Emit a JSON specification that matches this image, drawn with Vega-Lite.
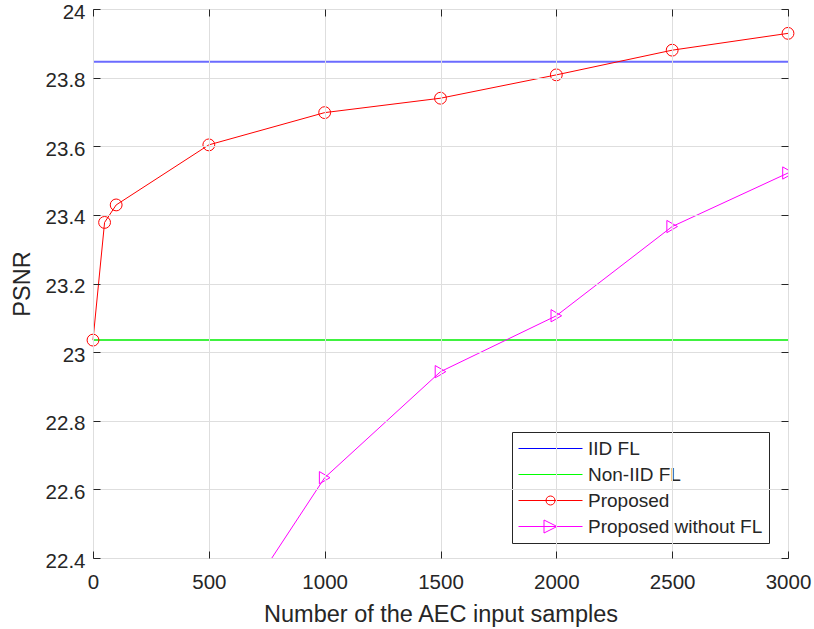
{
  "$schema": "https://vega.github.io/schema/vega-lite/v6.json",
  "width": 695,
  "height": 549,
  "autosize": "none",
  "padding": {"left": 93, "top": 9, "right": 26, "bottom": 71},
  "background": "white",
  "data": {
    "values": [
      {"series": "IID FL", "x": 0, "psnr": 23.846},
      {"series": "Non-IID FL", "x": 0, "psnr": 23.035},
      {"series": "Proposed", "x": 0, "psnr": 23.035},
      {"series": "Proposed", "x": 50, "psnr": 23.378},
      {"series": "Proposed", "x": 100, "psnr": 23.429},
      {"series": "Proposed", "x": 500, "psnr": 23.604},
      {"series": "Proposed", "x": 1000, "psnr": 23.698},
      {"series": "Proposed", "x": 1500, "psnr": 23.740},
      {"series": "Proposed", "x": 2000, "psnr": 23.808},
      {"series": "Proposed", "x": 2500, "psnr": 23.880},
      {"series": "Proposed", "x": 3000, "psnr": 23.929},
      {"series": "Proposed without FL", "x": 500, "psnr": 22.121},
      {"series": "Proposed without FL", "x": 1000, "psnr": 22.634},
      {"series": "Proposed without FL", "x": 1500, "psnr": 22.943},
      {"series": "Proposed without FL", "x": 2000, "psnr": 23.106},
      {"series": "Proposed without FL", "x": 2500, "psnr": 23.366},
      {"series": "Proposed without FL", "x": 3000, "psnr": 23.522}
    ]
  },
  "layer": [
    {
      "transform": [{"filter": "datum.series == 'IID FL'"}],
      "mark": {"type": "rule", "color": "#6b6bff", "strokeWidth": 2},
      "encoding": {
        "y": {"field": "psnr", "type": "quantitative", "scale": {"domain": [22.4, 24], "nice": false, "zero": false}, "axis": null}
      }
    },
    {
      "transform": [{"filter": "datum.series == 'Non-IID FL'"}],
      "mark": {"type": "rule", "color": "#00ee00", "strokeWidth": 1.5},
      "encoding": {
        "y": {"field": "psnr", "type": "quantitative", "axis": null}
      }
    },
    {
      "transform": [{"filter": "datum.series == 'Proposed'"}],
      "mark": {"type": "line", "color": "#ff0000", "strokeWidth": 1},
      "encoding": {
        "x": {
          "field": "x", "type": "quantitative",
          "scale": {"domain": [0, 3000], "nice": false, "zero": false},
          "axis": {
            "orient": "bottom",
            "values": [0, 500, 1000, 1500, 2000, 2500, 3000],
            "format": "d",
            "title": "Number of the AEC input samples",
            "offset": -7, "tickSize": 7, "labelPadding": 14, "titlePadding": 10,
            "ticks": true, "tickColor": "#262626", "tickWidth": 1, "zindex": 2,
            "grid": true, "domain": false
          }
        },
        "y": {
          "field": "psnr", "type": "quantitative",
          "axis": {
            "orient": "left",
            "values": [22.4, 22.6, 22.8, 23, 23.2, 23.4, 23.6, 23.8, 24],
            "format": ".1~f",
            "title": "PSNR",
            "offset": -7, "tickSize": 7, "labelPadding": 8, "titlePadding": 11, "labelOffset": 3,
            "ticks": true, "tickColor": "#262626", "tickWidth": 1, "zindex": 2,
            "grid": true, "domain": false
          }
        }
      }
    },
    {
      "transform": [{"filter": "datum.series == 'Proposed'"}],
      "mark": {"type": "point", "shape": "circle", "filled": false, "color": "#ff0000", "size": 140, "strokeWidth": 1, "opacity": 1},
      "encoding": {
        "x": {
          "field": "x", "type": "quantitative",
          "axis": {"orient": "top", "values": [0, 500, 1000, 1500, 2000, 2500, 3000], "labels": false, "title": null, "offset": -7, "tickSize": 7, "ticks": true, "tickColor": "#262626", "tickWidth": 1, "zindex": 2, "grid": false, "domain": false}
        },
        "y": {
          "field": "psnr", "type": "quantitative",
          "axis": {"orient": "right", "values": [22.4, 22.6, 22.8, 23, 23.2, 23.4, 23.6, 23.8, 24], "labels": false, "title": null, "offset": -7, "tickSize": 7, "ticks": true, "tickColor": "#262626", "tickWidth": 1, "zindex": 2, "grid": false, "domain": false}
        }
      }
    },
    {
      "transform": [{"filter": "datum.series == 'Proposed without FL'"}],
      "mark": {"type": "line", "color": "#ff00ff", "strokeWidth": 1, "clip": true},
      "encoding": {
        "x": {"field": "x", "type": "quantitative", "axis": null},
        "y": {"field": "psnr", "type": "quantitative", "axis": null}
      }
    },
    {
      "transform": [{"filter": "datum.series == 'Proposed without FL'"}],
      "mark": {"type": "point", "shape": "triangle-right", "filled": false, "color": "#ff00ff", "size": 150, "strokeWidth": 1, "opacity": 1, "clip": true},
      "encoding": {
        "x": {"field": "x", "type": "quantitative", "axis": null},
        "y": {"field": "psnr", "type": "quantitative", "axis": null}
      }
    },
    {
      "transform": [{"filter": "datum.series == 'none'"}],
      "mark": {"type": "point", "filled": false, "opacity": 1, "strokeWidth": 1},
      "encoding": {
        "color": {
          "field": "series", "type": "nominal",
          "scale": {"domain": ["IID FL", "Non-IID FL", "Proposed", "Proposed without FL"], "range": ["#0000ff", "#00ff00", "#ff0000", "#ff00ff"]},
          "legend": {
            "title": null, "orient": "none", "legendX": 419, "legendY": 423,
            "symbolSize": 400, "labelOffset": 49, "symbolStrokeWidth": 1,
            "symbolFillColor": "transparent", "labelLimit": 400,
            "strokeColor": "#262626", "fillColor": "white", "padding": 6, "rowPadding": 5,
            "labelFontSize": 19, "labelFont": "Liberation Sans", "labelColor": "#262626"
          }
        },
        "shape": {
          "field": "series", "type": "nominal",
          "scale": {
            "domain": ["IID FL", "Non-IID FL", "Proposed", "Proposed without FL"],
            "range": [
              "M-1,0L5.4,0",
              "M-1,0L5.4,0",
              "M-1,0L5.4,0M2.65,0A0.45,0.45,0,1,1,1.75,0A0.45,0.45,0,1,1,2.65,0",
              "M-1,0L5.4,0M1.55,-0.65L2.85,0L1.55,0.65Z"
            ]
          },
          "legend": {
            "title": null, "orient": "none", "legendX": 419, "legendY": 423,
            "symbolSize": 400, "labelOffset": 49, "symbolStrokeWidth": 1,
            "symbolFillColor": "transparent", "labelLimit": 400,
            "strokeColor": "#262626", "fillColor": "white", "padding": 6, "rowPadding": 5,
            "labelFontSize": 19, "labelFont": "Liberation Sans", "labelColor": "#262626"
          }
        }
      }
    }
  ],
  "config": {
    "view": {"stroke": "#262626", "strokeWidth": 1},
    "axis": {
      "labelFont": "Liberation Sans", "labelFontSize": 20.5, "labelColor": "#262626",
      "titleFont": "Liberation Sans", "titleFontSize": 23.5, "titleFontWeight": "normal", "titleColor": "#262626",
      "ticks": true, "tickColor": "#262626", "tickWidth": 1,
      "gridColor": "#dedede", "gridWidth": 1,
      "labelFlush": false, "labelOverlap": false
    }
  }
}
